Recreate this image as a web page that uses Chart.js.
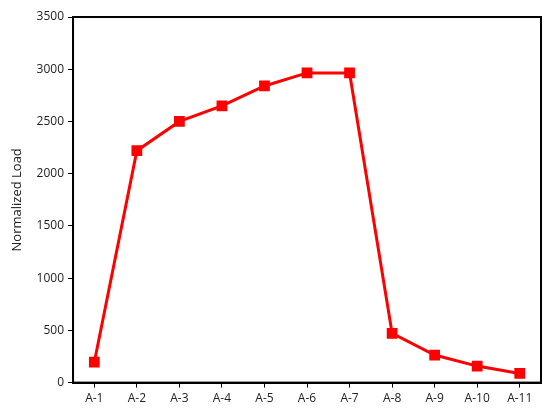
<!DOCTYPE html>
<html>
<head>
<meta charset="utf-8">
<script src="https://cdn.jsdelivr.net/npm/chart.js@4/dist/chart.umd.min.js"></script>
<style>
  html, body { margin: 0; padding: 0; background: #fff; }
  #wrap { width: 550px; height: 413px; }
</style>
</head>
<body>
<div id="wrap"><canvas id="chart"></canvas></div>
<script>
var labels = ['A-1', 'A-2', 'A-3', 'A-4', 'A-5', 'A-6', 'A-7', 'A-8', 'A-9', 'A-10', 'A-11'];
var loads = [195, 2220, 2500, 2650, 2840, 2965, 2965, 472, 264, 158, 88];
var yTicks = [0, 500, 1000, 1500, 2000, 2500, 3000, 3500];

// draw the frame round the plot area
var frame = {
    id: 'frame',
    beforeDatasetsDraw: function (chart) {
        var a = chart.chartArea;
        var ctx = chart.ctx;
        ctx.save();
        ctx.strokeStyle = '#000';
        ctx.lineWidth = 2;
        ctx.strokeRect(a.left, a.top, a.right - a.left, a.bottom - a.top);
        ctx.restore();
    }
};

var ctx = document.getElementById('chart').getContext('2d');
var chart = new Chart(ctx, {
    type: 'line',
    data: {
        labels: labels,
        datasets: [{
            data: loads,
            borderColor: '#ff0000',
            backgroundColor: '#ff0000',
            borderWidth: 3,
            pointStyle: 'rect',
            pointRadius: 5.5,
            pointHoverRadius: 5.5,
            tension: 0
        }]
    },
    options: {
        responsive: true,
        maintainAspectRatio: false,
        animation: false,
        events: [],
        layout: { padding: { top: 17, right: 9, left: 9, bottom: 3 } },
        plugins: {
            legend: { display: false },
            tooltip: { enabled: false }
        },
        scales: {
            x: {
                offset: true,
                grid: {
                    offset: false,
                    drawOnChartArea: false,
                    drawTicks: true,
                    tickLength: 5,
                    color: '#000',
                    lineWidth: 1
                },
                border: { color: '#000', width: 2 },
                ticks: {
                    color: '#222',
                    font: { family: 'Open Sans', size: 12 },
                    padding: 4,
                    maxRotation: 0,
                    autoSkip: false
                }
            },
            y: {
                min: 0,
                max: 3500,
                afterBuildTicks: function (axis) {
                    axis.ticks = yTicks.map(function (v) { return { value: v }; });
                },
                grid: {
                    drawOnChartArea: false,
                    drawTicks: true,
                    tickLength: 5,
                    color: '#000',
                    lineWidth: 1
                },
                border: { color: '#000', width: 2 },
                ticks: {
                    color: '#222',
                    font: { family: 'Open Sans', size: 12 },
                    padding: 4,
                    callback: function (v) { return String(v); }
                },
                title: {
                    display: true,
                    text: 'Normalized Load',
                    color: '#222',
                    font: { family: 'Open Sans', size: 13 },
                    padding: { top: 0, bottom: 8 }
                }
            }
        }
    },
    plugins: [frame]
});
</script>
</body>
</html>
